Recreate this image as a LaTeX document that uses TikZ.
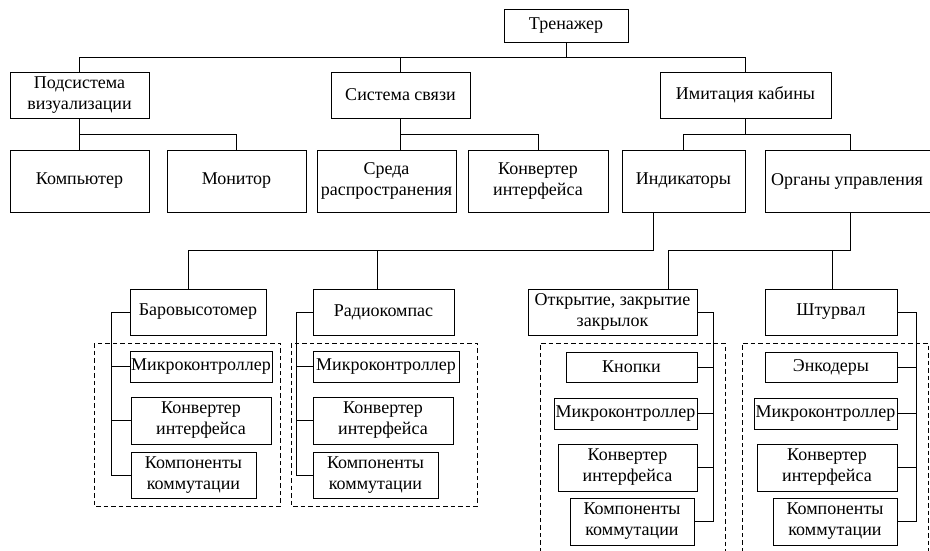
\documentclass[tikz,border=0pt]{standalone}
\usepackage{fontspec}
\setmainfont{Liberation Serif}
\usetikzlibrary{calc}
\begin{document}
\begin{tikzpicture}[x=1pt,y=-1pt,
  every path/.style={line width=1pt},
  box/.style={draw, line width=1pt, rectangle, inner xsep=0pt, inner ysep=0pt, align=center,
    font=\fontsize{18}{21}\selectfont},
  grp/.style={draw, line width=1pt, dash pattern=on 4.5pt off 3pt}]
\useasboundingbox (0,0) rectangle (930,550);
% level 0
\node[box, minimum width=124, minimum height=33] (tren) at (566,25.5) {Тренажер};
% level 1
\node[box, minimum width=139, minimum height=46] (pod) at (79.5,95) {Подсистема\\визуализации};
\node[box, minimum width=139, minimum height=46] (svyaz) at (400.5,95) {Система связи};
\node[box, minimum width=171, minimum height=46] (imit) at (745.5,95) {Имитация кабины};
% level 2
\node[box, minimum width=139, minimum height=62] (komp) at (79.5,181) {Компьютер};
\node[box, minimum width=139, minimum height=62] (mon) at (236.5,181) {Монитор};
\node[box, minimum width=139, minimum height=62] (sreda) at (386.5,181) {Среда\\распространения};
\node[box, minimum width=140, minimum height=62] (konv) at (538,181) {Конвертер\\интерфейса};
\node[box, minimum width=123, minimum height=62] (ind) at (683.5,181) {Индикаторы};
\node[box, minimum width=170, minimum height=62] (org) at (850,181) {\hspace*{-6pt}Органы управления};
% level 3
\node[box, minimum width=136, minimum height=46] (bar) at (198,312) {Баровысотомер};
\node[box, minimum width=141, minimum height=46] (radio) at (383.5,312) {Радиокомпас};
\node[box, minimum width=169, minimum height=46] (otkr) at (612.5,312) {Открытие, закрытие\\закрылок};
\node[box, minimum width=132, minimum height=46] (shturv) at (831,312) {Штурвал};
% dashed groups
\draw[grp] (94,343) rectangle (280,506);
\draw[grp] (291,343) rectangle (477,506);
\draw[grp] (540,552) |- (725,343) -- (725,552);
\draw[grp] (742,552) |- (928,343) -- (928,552);
% group A
\node[box, minimum width=142, minimum height=31] (mk1) at (201,366.5) {Микроконтроллер};
\node[box, minimum width=140, minimum height=47] (kv1) at (201,420.5) {Конвертер\\интерфейса};
\node[box, minimum width=125, minimum height=46] (km1) at (193.5,475) {Компоненты\\коммутации};
% group B
\node[box, minimum width=146, minimum height=31] (mk2) at (386,366.5) {Микроконтроллер};
\node[box, minimum width=140, minimum height=47] (kv2) at (383,420.5) {Конвертер\\интерфейса};
\node[box, minimum width=125, minimum height=46] (km2) at (375.5,475) {Компоненты\\коммутации};
% group C
\node[box, minimum width=131, minimum height=30] (kn3) at (631.5,367) {Кнопки};
\node[box, minimum width=143, minimum height=31] (mk3) at (625.5,413.5) {Микроконтроллер};
\node[box, minimum width=139, minimum height=47] (kv3) at (627.5,467.5) {Конвертер\\интерфейса};
\node[box, minimum width=124, minimum height=47] (km3) at (632,521.5) {Компоненты\\коммутации};
% group D
\node[box, minimum width=132, minimum height=30] (en4) at (831,367) {Энкодеры};
\node[box, minimum width=143, minimum height=31] (mk4) at (825.5,413.5) {Микроконтроллер};
\node[box, minimum width=140, minimum height=47] (kv4) at (827,467.5) {Конвертер\\интерфейса};
\node[box, minimum width=124, minimum height=47] (km4) at (835,521.5) {Компоненты\\коммутации};
% connectors level 0-1
\draw (tren.south) -- ++(0,15) coordinate (j0);
\draw (pod.north) |- (j0) -| (imit.north);
\draw (svyaz.north) -- (svyaz.north |- j0);
% pod children
\draw (pod.south) -- ++(0,16) coordinate (j1) -- (komp.north);
\draw (j1) -| (mon.north);
% svyaz children
\draw (svyaz.south) -- ++(0,16) coordinate (j2) -- (j2 |- sreda.north);
\draw (j2) -| (konv.north);
% imit children
\draw (imit.south) -- ++(0,16) coordinate (j3);
\draw (ind.north) |- (j3) -| (org.north);
% indicators
\draw ([xshift=-30pt]ind.south) -- ++(0,38) coordinate (j4) -| ([xshift=-10pt]bar.north);
\draw ([xshift=-6.5pt]radio.north) -- ([xshift=-6.5pt]radio.north |- j4);
% controls
\draw (org.south) -- ++(0,38) coordinate (j5) -| ([xshift=55.5pt]otkr.north);
\draw ([xshift=1pt]shturv.north) -- ([xshift=1pt]shturv.north |- j5);
% side buses
\draw (bar.west) -- ++(-18,0) coordinate (ba) |- (km1.west);
\draw (mk1.west) -- (mk1.west -| ba);
\draw (kv1.west) -- (kv1.west -| ba);
\draw (radio.west) -- ++(-16,0) coordinate (rb) |- (km2.west);
\draw (mk2.west) -- (mk2.west -| rb);
\draw (kv2.west) -- (kv2.west -| rb);
\draw (otkr.east) -- ++(16,0) coordinate (ob) |- (km3.east);
\draw (kn3.east) -- (kn3.east -| ob);
\draw (mk3.east) -- (mk3.east -| ob);
\draw (kv3.east) -- (kv3.east -| ob);
\draw (shturv.east) -- ++(19,0) coordinate (sb) |- (km4.east);
\draw (en4.east) -- (en4.east -| sb);
\draw (mk4.east) -- (mk4.east -| sb);
\draw (kv4.east) -- (kv4.east -| sb);
\end{tikzpicture}
\end{document}
